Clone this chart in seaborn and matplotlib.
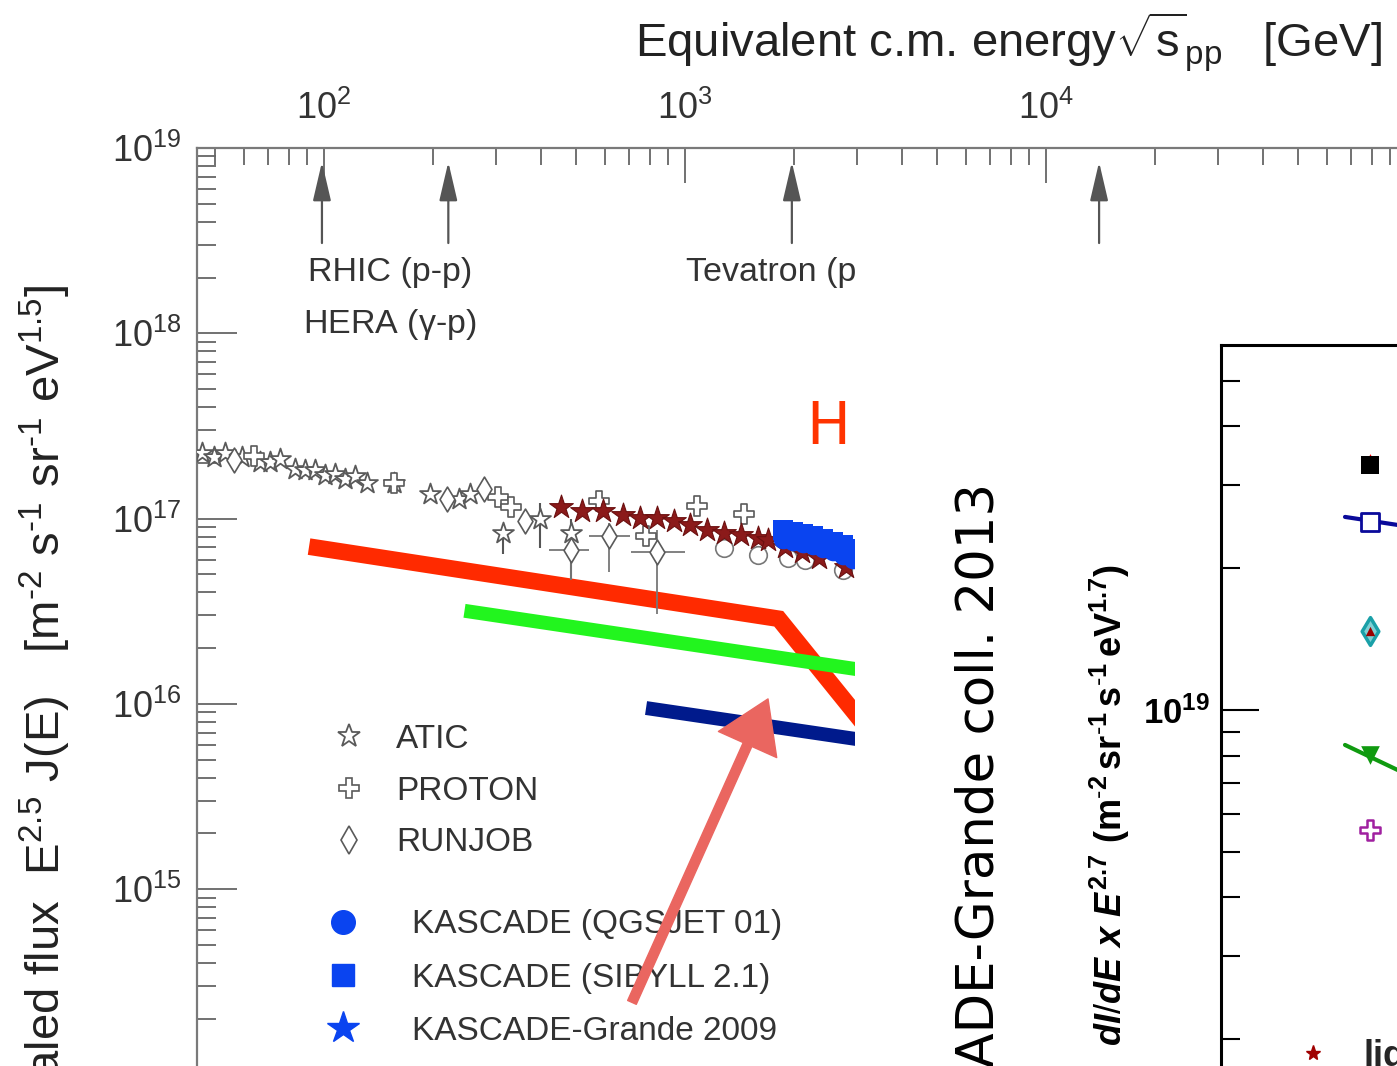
import numpy as np
import pandas as pd
import matplotlib
matplotlib.use("Agg")
import matplotlib.pyplot as plt
import seaborn as sns
from matplotlib.lines import Line2D
from matplotlib.patches import Rectangle
from matplotlib.ticker import FuncFormatter, NullFormatter, LogLocator

sns.set_theme(style="white")
plt.rcParams["font.family"] = ["Liberation Sans", "DejaVu Sans"]
plt.rcParams["mathtext.fontset"] = "custom"
plt.rcParams["mathtext.rm"] = "Liberation Sans"
plt.rcParams["mathtext.it"] = "Liberation Sans:italic:bold"
plt.rcParams["mathtext.bf"] = "Liberation Sans:bold"

# ---------------- data (left panel: x = equivalent sqrt(s) [GeV], y = E^2.5 J(E)) -------------
atic_x = [46.0, 49.7, 53.3, 59.4, 66.6, 71.0, 75.6, 83.2, 88.6, 94.4, 100.6, 107.2,
          114.3, 121.8, 131.5, 156.1, 196.3, 236, 253, 314, 397, 484]
atic_y = [2.25e17, 2.16e17, 2.25e17, 2.16e17, 2.03e17, 2.03e17, 2.11e17, 1.86e17,
          1.82e17, 1.82e17, 1.71e17, 1.75e17, 1.64e17, 1.69e17, 1.55e17, 1.55e17,
          1.36e17, 1.28e17, 1.36e17, 8.4e16, 1.0e17, 8.4e16]
atic_ylo = [0] * 19 + [1.93e16, 3.1e16, 3.66e16]
atic_yhi = [0] * 19 + [0.9e16, 2.1e16, 1.6e16]

proton_x = [64.1, 156.1, 304, 329, 579, 780, 1079, 1456]
proton_y = [2.19e17, 1.55e17, 1.30e17, 1.15e17, 1.25e17, 8.09e16, 1.17e17, 1.06e17]

runjob_x = [56.4, 218.7, 276.7, 361, 484, 617, 837]
runjob_y = [2.06e17, 1.28e17, 1.45e17, 9.75e16, 6.79e16, 8.09e16, 6.64e16]
runjob_xlo = [0, 0, 0, 0, 63, 74, 127]
runjob_xhi = [0, 0, 0, 0, 59, 88, 163]
runjob_ylo = [0, 0, 0, 0, 2.11e16, 2.92e16, 3.58e16]
runjob_yhi = [0, 0, 0, 0, 1.6e16, 1.41e16, 2.09e16]

grande_x = [452, 519, 594, 674, 751, 837, 932, 1032, 1150, 1282, 1428, 1591, 1696,
            1889, 2105, 2345, 2785]
grande_y = [1.15e17, 1.10e17, 1.10e17, 1.04e17, 1.01e17, 1.01e17, 9.75e16, 9.28e16,
            8.73e16, 8.40e16, 8.20e16, 7.89e16, 7.70e16, 7.06e16, 6.64e16, 6.16e16, 5.51e16]

circ_x = [1282, 1591, 1925, 2145, 2748]
circ_y = [6.97e16, 6.38e16, 6.16e16, 6.0e16, 5.30e16]

kas_x = [1865, 1988, 2118, 2257, 2406, 2564, 2732, 2912]
sibyll_y = [8.72e16, 8.51e16, 8.30e16, 8.09e16, 7.80e16, 7.51e16, 7.23e16, 6.89e16]
qgsjet_y = [7.80e16, 7.61e16, 7.41e16, 7.23e16, 6.97e16, 6.71e16, 6.38e16, 6.08e16]

red_x = [90.9, 1818, 3951]
red_y = [7.06e16, 2.88e16, 4.43e15]
green_x = [245, 3951]
green_y = [3.18e16, 1.42e16]
navy_x = [780, 3951]
navy_y = [9.5e15, 5.96e15]

arrow_x = [98.7, 221, 1977, 14030]
arrow_tip, arrow_tail = 8.4e18, 3.07e18

# ---------------- data (right panel: x = E [eV], y = dI/dE x E^2.7) ----------------
r_x = 2.67e16
all_y, all_err_y = 3.31e19, 3.42e19
blue_y = 2.51e19
cyan_y = 1.47e19
green_pt_y = 8.03e18
mag_y = 5.56e18
bline_x = [2.265e16, 4.53e16]
bline_y = [2.57e19, 2.376e19]
gline_x = [2.265e16, 4.53e16]
gline_y = [8.43e18, 6.60e18]

W, H = 1397, 1066
fig = plt.figure(figsize=(W / 100, H / 100), dpi=100)
fig.patch.set_facecolor("white")

# ================= left panel =================
ax = fig.add_axes([197 / W, 0, 1200 / W, 1 - 148 / H])
ax.set_xscale("log")
ax.set_yscale("log")
ax.set_xlim(10 ** (2 - 127 / 361), 10 ** (2 + 1073 / 361))
ax.set_ylim(10 ** (19 - 918 / 185.3), 1e19)
ax.set_facecolor("white")

gray = "#5a5a5a"
sns.lineplot(x=red_x, y=red_y, sort=False, color="#ff2a00", linewidth=12, ax=ax,
             solid_capstyle="butt", solid_joinstyle="miter", zorder=2)
sns.lineplot(x=green_x, y=green_y, sort=False, color="#22f51e", linewidth=10, ax=ax,
             solid_capstyle="butt", zorder=2)
sns.lineplot(x=navy_x, y=navy_y, sort=False, color="#001a8c", linewidth=10, ax=ax,
             solid_capstyle="butt", zorder=2)

ax.errorbar(atic_x, atic_y, yerr=[atic_ylo, atic_yhi], fmt="none", ecolor="#555",
            elinewidth=1.5, zorder=3)
ax.errorbar(runjob_x, runjob_y, xerr=[runjob_xlo, runjob_xhi], yerr=[runjob_ylo, runjob_yhi],
            fmt="none", ecolor="#777", elinewidth=1.3, zorder=3)
sns.scatterplot(x=atic_x, y=atic_y, marker="*", s=250, color=gray, facecolor="white",
                edgecolor=gray, linewidth=1.3, ax=ax, zorder=4)
sns.scatterplot(x=proton_x, y=proton_y, marker="P", s=200, color=gray, facecolor="white",
                edgecolor=gray, linewidth=1.2, ax=ax, zorder=4)
sns.scatterplot(x=runjob_x, y=runjob_y, marker="d", s=160, color=gray, facecolor="white",
                edgecolor=gray, linewidth=1.2, ax=ax, zorder=4)
sns.scatterplot(x=circ_x, y=circ_y, marker="o", s=160, color=gray, facecolor="white",
                edgecolor="#777", linewidth=1.2, ax=ax, zorder=4)
sns.scatterplot(x=grande_x, y=grande_y, marker="*", s=320, color="#8b1a1a",
                edgecolor="#6b1010", linewidth=0.8, ax=ax, zorder=5)
sns.scatterplot(x=kas_x, y=qgsjet_y, marker="o", s=200, color="#0a44f0",
                edgecolor="#0a44f0", linewidth=0, ax=ax, zorder=6)
sns.scatterplot(x=kas_x, y=sibyll_y, marker="s", s=200, color="#0a44f0",
                edgecolor="#0a44f0", linewidth=0, ax=ax, zorder=6)

for xv in arrow_x:
    ax.annotate("", xy=(xv, arrow_tip), xytext=(xv, arrow_tail),
                arrowprops=dict(arrowstyle="-|>,head_length=0.6,head_width=0.14",
                                color="#555", lw=1.6, mutation_scale=40,
                                shrinkA=0, shrinkB=0))

tf = fig.transFigure
lab_fs = 24.5
ax.text(390 / W, 1 - 273 / H, "RHIC (p-p)", transform=tf, ha="center", va="center",
        fontsize=lab_fs, color="#333")
ax.text(390 / W, 1 - 324 / H, r"HERA ($\mathrm{\gamma}$-p)", transform=tf, ha="center",
        va="center", fontsize=lab_fs, color="#333")
ax.text(686 / W, 1 - 273 / H, "Tevatron (p-p)", transform=tf, ha="left", va="center",
        fontsize=lab_fs, color="#333")
ax.text(806 / W, 1 - 427 / H, "H", transform=tf, ha="left", va="center", fontsize=42,
        color="#ff3300", family="DejaVu Sans")

# axes styling
for side in ["right", "bottom"]:
    ax.spines[side].set_visible(False)
for side in ["left", "top"]:
    ax.spines[side].set_color("#7a7a7a")
    ax.spines[side].set_linewidth(1.6)
ax.xaxis.tick_top()
ax.xaxis.set_label_position("top")
ax.tick_params(axis="x", which="both", top=True, bottom=False, direction="in",
               color="#666", width=1.3)
ax.tick_params(axis="x", which="major", length=25, labelsize=26, pad=15, labelcolor="#333")
ax.tick_params(axis="x", which="minor", length=12)
ax.tick_params(axis="y", which="both", left=True, right=False, direction="in",
               color="#666", width=1.3)
ax.tick_params(axis="y", which="major", length=29, labelsize=26, pad=11, labelcolor="#333")
ax.tick_params(axis="y", which="minor", length=14)
fmt_dec = FuncFormatter(lambda v, p: r"$\mathrm{10^{%d}}$" % int(round(np.log10(v))))
ax.xaxis.set_major_locator(LogLocator(base=10))
ax.yaxis.set_major_locator(LogLocator(base=10))
ax.xaxis.set_minor_locator(LogLocator(base=10, subs=np.arange(2, 10)))
ax.yaxis.set_minor_locator(LogLocator(base=10, subs=np.arange(2, 10)))
ax.xaxis.set_major_formatter(fmt_dec)
ax.yaxis.set_major_formatter(fmt_dec)
ax.xaxis.set_minor_formatter(NullFormatter())
ax.yaxis.set_minor_formatter(NullFormatter())

ax.set_xlabel(r"Equivalent c.m. energy$\sqrt{\mathrm{s}}_{\mathrm{pp}}$   [GeV]",
              fontsize=34, color="#222")
ax.xaxis.set_label_coords((1008 - 197) / 1200, (H - 42) / (H - 148))
ax.xaxis.label.set_va("center")
ax.set_ylabel(r"scaled flux  $\mathrm{E^{2.5}\ J(E)\ \ \ [m^{\text{-}2}\ s^{\text{-}1}\ sr^{\text{-}1}\ eV^{1.5}]}$",
              fontsize=34, color="#222")
ax.yaxis.label.set_ha("right")
ax.yaxis.label.set_va("center")
ax.yaxis.set_label_coords((45 - 197) / 1200, (H - 285) / (H - 148))

# legends
fs = 24
h1 = [Line2D([], [], ls="none", marker="*", ms=17, mfc="white", mec=gray, mew=1.3),
      Line2D([], [], ls="none", marker="P", ms=15, mfc="white", mec=gray, mew=1.2),
      Line2D([], [], ls="none", marker="d", ms=14, mfc="white", mec=gray, mew=1.2)]
leg1 = ax.legend(h1, ["ATIC", "PROTON", "RUNJOB"], loc="center left",
                 bbox_to_anchor=(332 / W, 1 - 791 / H), bbox_transform=tf, frameon=False,
                 fontsize=fs, labelcolor="#333", handlelength=1.0, handletextpad=0.93,
                 labelspacing=0.62, borderpad=0, borderaxespad=0, numpoints=1)
ax.add_artist(leg1)
h2 = [Line2D([], [], ls="none", marker="o", ms=17, color="#0a44f0"),
      Line2D([], [], ls="none", marker="s", ms=16, color="#0a44f0"),
      Line2D([], [], ls="none", marker="*", ms=24, color="#0a44f0")]
leg2 = ax.legend(h2, ["KASCADE (QGSJET 01)", "KASCADE (SIBYLL 2.1)", "KASCADE-Grande 2009"],
                 loc="center left", bbox_to_anchor=(326 / W, 1 - 978 / H), bbox_transform=tf,
                 frameon=False, fontsize=fs, labelcolor="#333", handlelength=1.0,
                 handletextpad=1.59, labelspacing=0.66, borderpad=0, borderaxespad=0,
                 numpoints=1)

# hand-drawn pointer arrow
ax.annotate("", xy=(1698, 1.064e16), xytext=(713, 2.45e14),
            arrowprops=dict(arrowstyle="simple,head_length=0.9,head_width=1.15,tail_width=0.17",
                            color="#ea6660", mutation_scale=40, shrinkA=0, shrinkB=0),
            zorder=10)

# ================= cover sheet =================
fig.add_artist(Rectangle((855 / W, 0), 1 - 855 / W, 1 - 257 / H, transform=tf,
                         facecolor="white", edgecolor="none", zorder=1))

fig.text(979 / W, 1 - 483 / H, "KASCADE-Grande coll. 2013", rotation=90, ha="center",
         va="top", fontsize=37, color="black", family="DejaVu Sans", zorder=3)

# ================= right panel =================
ax2 = fig.add_axes([1221 / W, 0, 0.5, 1 - 345 / H], zorder=2)
ax2.set_facecolor("white")
ax2.set_xscale("log")
ax2.set_yscale("log")
ax2.set_xlim(1e16, 1e18)
ax2.set_ylim(10 ** (19 - 356 / 471), 10 ** (19 + 365 / 471))

sns.lineplot(x=bline_x, y=bline_y, sort=False, color="#0a0a9a", linewidth=3, ax=ax2)
sns.lineplot(x=gline_x, y=gline_y, sort=False, color="#109a10", linewidth=3, ax=ax2)
sns.scatterplot(x=[r_x], y=[all_err_y], marker="^", s=40, color="red", linewidth=0, ax=ax2,
                zorder=3)
sns.scatterplot(x=[r_x], y=[all_y], marker="s", s=150, color="black", linewidth=0, ax=ax2,
                zorder=4)
sns.scatterplot(x=[r_x], y=[blue_y], marker="s", s=170, color="#0a0a9a", facecolor="white",
                edgecolor="#0a0a9a", linewidth=2, ax=ax2, zorder=4)
sns.scatterplot(x=[r_x], y=[cyan_y], marker="d", s=200, color="#1aa0a8", facecolor="#7fd0d4",
                edgecolor="#1aa0a8", linewidth=2.5, ax=ax2, zorder=4)
sns.scatterplot(x=[r_x], y=[cyan_y], marker="^", s=45, color="#9a0000", linewidth=0,
                ax=ax2, zorder=5)
sns.scatterplot(x=[r_x], y=[green_pt_y], marker="v", s=180, color="#109a10", linewidth=0,
                ax=ax2, zorder=4)
sns.scatterplot(x=[r_x], y=[mag_y], marker="P", s=200, color="#a020a0", facecolor="white",
                edgecolor="#a020a0", linewidth=1.8, ax=ax2, zorder=4)

for side in ["right", "bottom"]:
    ax2.spines[side].set_visible(False)
for side in ["left", "top"]:
    ax2.spines[side].set_color("black")
    ax2.spines[side].set_linewidth(2.2)
ax2.tick_params(axis="x", which="both", bottom=False, top=False, labelbottom=False,
                labeltop=False)
ax2.tick_params(axis="y", which="both", left=True, right=False, direction="in",
                color="black", width=1.5)
ax2.tick_params(axis="y", which="major", length=27, labelsize=25, pad=8, labelcolor="black")
ax2.tick_params(axis="y", which="minor", length=14)
ax2.yaxis.set_major_locator(LogLocator(base=10))
ax2.yaxis.set_minor_locator(LogLocator(base=10, subs=np.arange(2, 10)))
ax2.yaxis.set_major_formatter(FuncFormatter(lambda v, p: r"$\mathbf{10^{%d}}$" % int(round(np.log10(v)))))
ax2.yaxis.set_minor_formatter(NullFormatter())
ax2.set_ylabel(r"$dI/dE\ x\ E^{\mathbf{2.7}}\ \mathbf{(m^{\text{-}2}\,sr^{\text{-}1}\,s^{\text{-}1}\,eV^{1.7})}$",
               fontsize=26, color="black")
ax2.yaxis.label.set_va("center")
ax2.yaxis.set_label_coords((1110 - 1221) / 698.5, (H - 805) / (H - 345))

h3 = [Line2D([], [], ls="none", marker="*", ms=11, color="#a00000")]
ax2.legend(h3, ["light"], loc="center left", bbox_to_anchor=(1295 / W, 1 - 1056 / H),
           bbox_transform=tf, frameon=False, prop={"weight": "bold", "size": 26},
           handlelength=1.0, handletextpad=0.89, borderpad=0, borderaxespad=0, numpoints=1)

fig.savefig("out.png", dpi=100, facecolor="white")
